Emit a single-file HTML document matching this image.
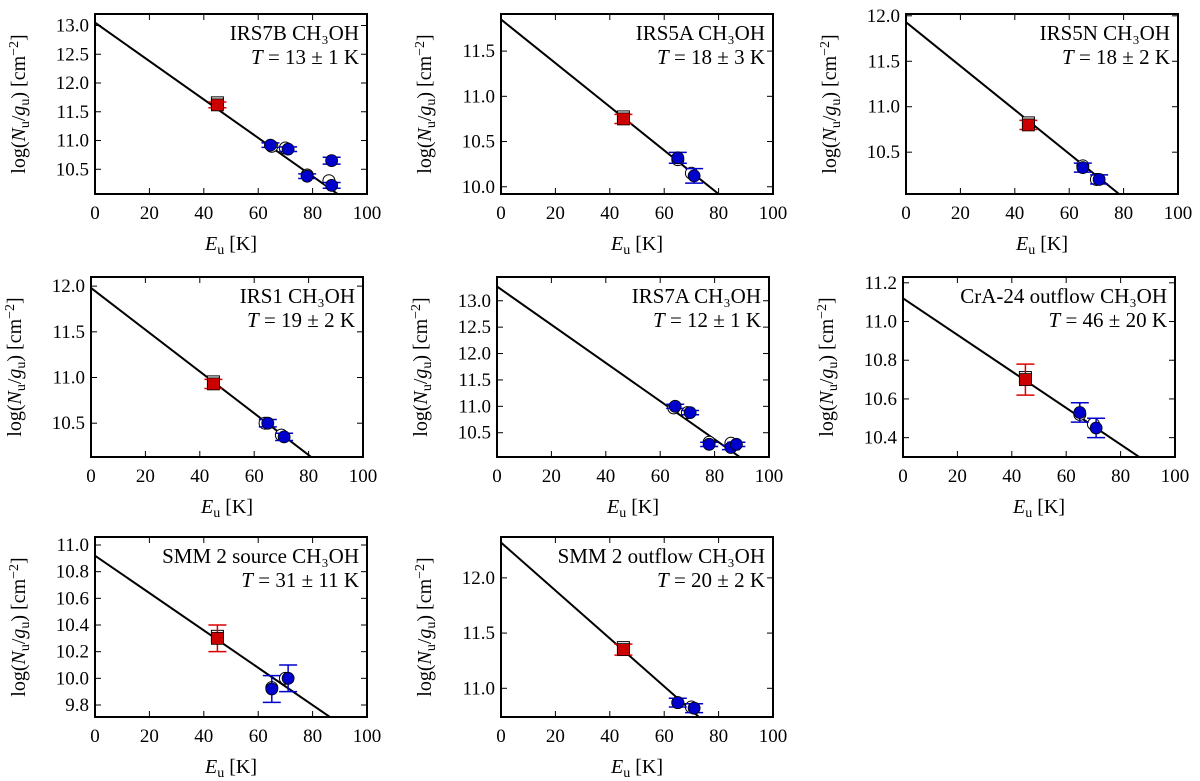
<!DOCTYPE html>
<html><head><meta charset="utf-8"><style>
body{margin:0;background:#fff}
svg{display:block;font-family:"Liberation Serif",serif}
</style></head><body>
<svg id="c" width="1200" height="781"></svg>
<script>
const titles=["IRS7B CH₃OH","IRS5A CH₃OH","IRS5N CH₃OH","IRS1 CH₃OH","IRS7A CH₃OH","CrA-24 outflow CH₃OH","SMM 2 source CH₃OH","SMM 2 outflow CH₃OH"];
const temps=["13 ± 1","18 ± 3","18 ± 2","19 ± 2","12 ± 1","46 ± 20","31 ± 11","20 ± 2"];
const tempVals=[13,18,18,19,12,46,31,20];
const intercepts=[13.05,11.85,11.93,11.98,13.27,11.12,10.92,12.32];
const yMins=[10.07,9.92,10.04,10.13,10.04,10.30,9.71,10.74];
const yMaxs=[13.2,11.91,12.02,12.1,13.45,11.23,11.06,12.37];
const yTicks=[[10.5,11.0,11.5,12.0,12.5,13.0],[10.0,10.5,11.0,11.5],[10.5,11.0,11.5,12.0],[10.5,11.0,11.5,12.0],[10.5,11.0,11.5,12.0,12.5,13.0],[10.4,10.6,10.8,11.0,11.2],[9.8,10.0,10.2,10.4,10.6,10.8,11.0],[11.0,11.5,12.0]];
const xTicks=[0,20,40,60,80,100];
const redE=[45,45,45,45,null,45,45,45];
const redV=[11.62,10.75,10.8,10.93,null,10.7,10.3,11.35];
const redErr=[0.05,0.05,0.05,0.05,0,0.08,0.1,0.05];
const openE=[[65,70,78,86],[65,70],[65,70],[64,70],[65,70,78,86],[65,70],[65,70],[65,70]];
const openV=[[10.9,10.87,10.4,10.3],[10.3,10.15],[10.35,10.2],[10.5,10.37],[10.97,10.88,10.32,10.3],[10.52,10.47],[9.93,10.0],[10.87,10.83]];
const fillE=[[64.5,71,78,87,87],[65,71],[65,71],[65,71],[65.5,71,78,86,88],[65,71],[65,71],[65,71]];
const fillV=[[10.92,10.85,10.38,10.65,10.22],[10.32,10.12],[10.33,10.2],[10.5,10.35],[11.0,10.88,10.28,10.22,10.28],[10.53,10.45],[9.92,10.0],[10.87,10.82]];
const fillErr=[[0.04,0.04,0.04,0.06,0.05],[0.06,0.08],[0.05,0.05],[0.04,0.04],[0.04,0.04,0.04,0.04,0.04],[0.05,0.05],[0.1,0.1],[0.04,0.04]];
const boxes=[[95,14],[501,14],[906,14],[91,277],[497,277],[903,277],[95,537],[501,537]];
const W=272,H=180;
const NS="http://www.w3.org/2000/svg";
const svg=document.getElementById('c');
function mk(tag,attrs,parent){const e=document.createElementNS(NS,tag);for(const k in attrs)e.setAttribute(k,attrs[k]);(parent||svg).appendChild(e);return e;}
boxes.forEach((b,i)=>{
  const g=mk('g',{});
  
  
  const [x0,y0]=b;
  const xs=e=>x0+e/100*W;
  const ys=v=>y0+H-(v-yMins[i])/(yMaxs[i]-yMins[i])*H;
  const cid='clip'+i;
  const cp=mk('clipPath',{id:cid},g);mk('rect',{x:x0,y:y0,width:W,height:H},cp);
  const pg=mk('g',{'clip-path':`url(#${cid})`},g);
  const slope=-0.4343/tempVals[i];
  const ln=mk('line',{x1:xs(0),y1:ys(intercepts[i]),x2:xs(100),y2:ys(intercepts[i]+slope*100),stroke:'#000','stroke-width':2},pg);
  
  
  function errbar(e,v,er,col){
    const cw=9;
    mk('line',{x1:xs(e),x2:xs(e),y1:ys(v+er),y2:ys(v-er),stroke:col,'stroke-width':1.5},pg);
    mk('line',{x1:xs(e)-cw,x2:xs(e)+cw,y1:ys(v+er),y2:ys(v+er),stroke:col,'stroke-width':1.5},pg);
    mk('line',{x1:xs(e)-cw,x2:xs(e)+cw,y1:ys(v-er),y2:ys(v-er),stroke:col,'stroke-width':1.5},pg);
  }
  openE[i].forEach((e,j)=>{const c=mk('circle',{cx:xs(e),cy:ys(openV[i][j]),r:6,fill:'#fff',stroke:'#000','stroke-width':1},pg);
    
    });
  fillE[i].forEach((e,j)=>{errbar(e,fillV[i][j],fillErr[i][j],'#0000cc');
    const c=mk('circle',{cx:xs(e),cy:ys(fillV[i][j]),r:6,fill:'#0000cc',stroke:'#000','stroke-width':0.8},pg);
    
    });
  if(redE[i]!==null){
    const e=redE[i],v=redV[i];
    mk('rect',{x:xs(e)-6,y:ys(v)-8,width:12,height:12,fill:'#fff',stroke:'#000'},pg);
    errbar(e,v,redErr[i],'#dd0000');
    const r=mk('rect',{x:xs(e)-6,y:ys(v)-6,width:12,height:12,fill:'#cc0000',stroke:'#000','stroke-width':0.8},pg);
    
    
  }
  mk('rect',{x:x0,y:y0,width:W,height:H,fill:'none',stroke:'#000','stroke-width':2},g);
  xTicks.forEach(t=>{const x=xs(t);
    mk('line',{x1:x,x2:x,y1:y0+H,y2:y0+H-6,stroke:'#000'},g);
    mk('line',{x1:x,x2:x,y1:y0,y2:y0+6,stroke:'#000'},g);
    const tx=mk('text',{x:x,y:y0+H+25,'font-size':19,'text-anchor':'middle'},g);tx.textContent=t;});
  yTicks[i].forEach(t=>{const y=ys(t);
    mk('line',{x1:x0,x2:x0+6,y1:y,y2:y,stroke:'#000'},g);
    mk('line',{x1:x0+W,x2:x0+W-6,y1:y,y2:y,stroke:'#000'},g);
    const tx=mk('text',{x:x0-6,y:y+6,'font-size':19,'text-anchor':'end'},g);tx.textContent=t.toFixed(1);});
  const xl=mk('text',{x:x0+W/2,y:y0+H+56,'font-size':20,'text-anchor':'middle'},g);
  xl.innerHTML='<tspan font-style="italic">E</tspan><tspan font-size="14" dy="4">u</tspan><tspan dy="-4"> [K]</tspan>';
  
  
  const yl=mk('text',{transform:`translate(${x0-70},${y0+H/2}) rotate(-90)`,'font-size':20,'text-anchor':'middle'},g);
  yl.innerHTML='log(<tspan font-style="italic">N</tspan><tspan font-size="14" dy="4">u</tspan><tspan dy="-4">/</tspan><tspan font-style="italic">g</tspan><tspan font-size="14" dy="4">u</tspan><tspan dy="-4">) [cm</tspan><tspan font-size="14" dy="-7">−2</tspan><tspan dy="7">]</tspan>';
  
  
  const t1=mk('text',{x:x0+W-8,y:y0+26,'font-size':21,'text-anchor':'end'},g);
  t1.textContent=titles[i];
  
  
  const t2=mk('text',{x:x0+W-8,y:y0+50,'font-size':21,'text-anchor':'end'},g);
  t2.innerHTML='<tspan font-style="italic">T</tspan> = '+temps[i]+' K';
  
  
});
</script>
</body></html>
